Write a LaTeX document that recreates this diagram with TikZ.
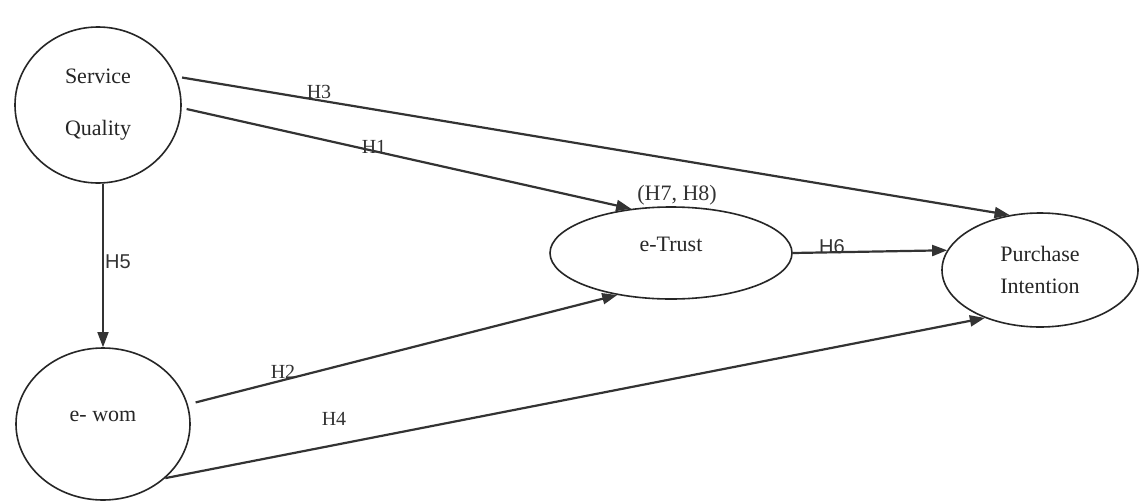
\documentclass[tikz,border=0pt]{standalone}
\usepackage{fontspec}
\setmainfont{Liberation Serif}
\newfontfamily\labsans{Liberation Sans}
\usetikzlibrary{shapes.geometric,arrows.meta}
\begin{document}
\begin{tikzpicture}[x=1pt,y=-1pt,
  construct/.style={draw=black!85, line width=1.6pt, ellipse, inner sep=0pt, align=center,
    text=black!85, font=\fontsize{22}{26}\selectfont},
  link/.style={line width=2.2pt, draw=black!80, -{Triangle[length=15pt,width=11pt]}},
  hyp/.style={font=\fontsize{20}{24}\selectfont, text=black!80, inner sep=0pt},
  hypsans/.style={font=\labsans\fontsize{20}{24}\selectfont, text=black!80, inner sep=0pt}]
\useasboundingbox[fill=white] (0,0) rectangle (1140,501);

% constructs
\node[construct, minimum width=166pt, minimum height=156pt,
      font=\fontsize{22}{52}\selectfont] (sq) at (98,105) {Service\\Quality};
\node[construct, minimum width=174pt, minimum height=152pt, text depth=14.6pt] (ew) at (103,424) {e- wom};
\node[construct, minimum width=242pt, minimum height=92pt, text depth=16.6pt] (et) at (671,253) {e-Trust};
\node[construct, minimum width=196pt, minimum height=114pt,
      font=\fontsize{22}{32}\selectfont] (pi) at (1040,270) {Purchase\\Intention};

% paths
\draw[link, shorten <=6pt] (sq.20) -- (pi.119);
\draw[link, shorten <=5pt] (sq.-2) -- (et.132);
\draw[link, shorten <=8pt] (ew.13) -- (et.218);
\draw[link] (ew.-41) -- (pi.221);
\draw[link, line width=1.5pt] (sq.south -| ew.north) -- (ew.north);
\draw[link] (et.east) -- (pi.168);

% labels
\node[hyp] (h3) at (319,92) {H3};
\node[hyp] (h1) at (374,147) {H1};
\node[hyp] (h2) at (283,372) {H2};
\node[hyp] (h4) at (334,419) {H4};
\node[hypsans] (h5) at (118,262) {H5};
\node[hypsans] (h6) at (832,247) {H6};
\node[hyp, font=\fontsize{22}{26}\selectfont] (h78) at (677,195) {(H7, H8)};
\end{tikzpicture}
\end{document}
